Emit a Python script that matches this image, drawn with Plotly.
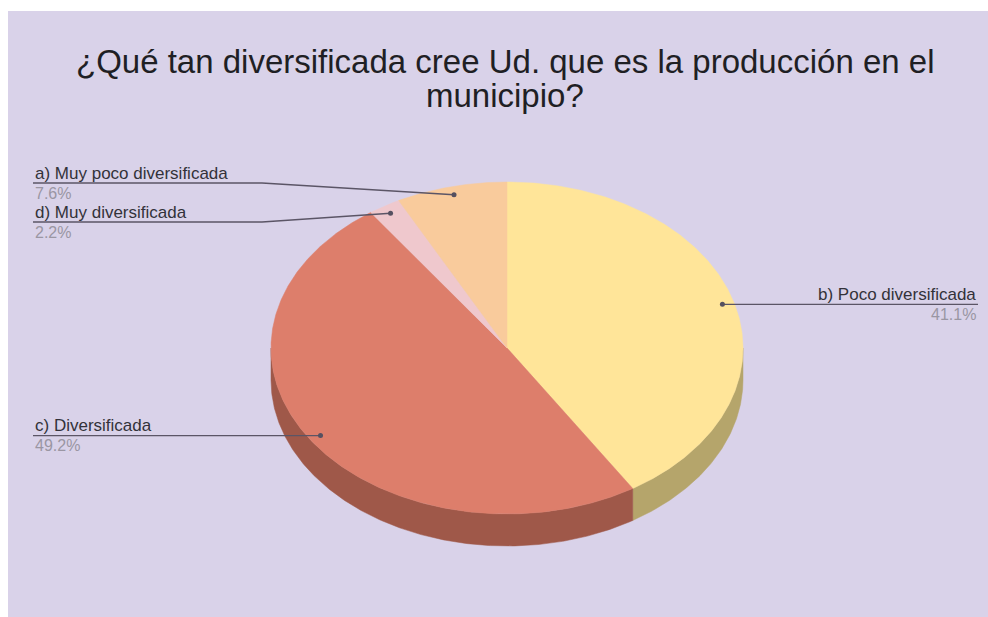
import numpy as np
import plotly.graph_objects as go

# Survey answers, drawn clockwise from 12 o'clock
categories = ["b) Poco diversificada", "c) Diversificada",
              "d) Muy diversificada", "a) Muy poco diversificada"]
values = [41.1, 49.2, 2.2, 7.6]
top_colors = ["#ffe599", "#dd7e6b", "#efc8cd", "#f9cb9c"]
side_colors = ["#b5a56b", "#9f5849", "#a98a8e", "#b08f6e"]

title_lines = ["¿Qué tan diversificada cree Ud. que es la producción en el",
               "municipio?"]

# Geometry of the tilted disc (in pixel units of the axes)
CX, CY = 507, 348
RX, RY = 236, 166
DEPTH = 32
BG = "#d9d2e9"
FONT = "Liberation Sans, Arial"


def rim(theta, dy=0.0, r=1.0):
    t = np.radians(theta)
    return CX + r * RX * np.sin(t), CY - r * RY * np.cos(t) + dy


def arc(a0, a1, dy=0.0, n=None):
    n = n or max(int(abs(a1 - a0) * 2), 4)
    th = np.linspace(a0, a1, n)
    return rim(th, dy)


total = sum(values)
bounds = np.concatenate([[0], np.cumsum(values) / total * 360])

fig = go.Figure()

# Visible front wall of the disc
for i, c in enumerate(categories):
    s0, s1 = max(bounds[i], 90), min(bounds[i + 1], 270)
    if s1 <= s0:
        continue
    xt, yt = arc(s0, s1)
    xb, yb = arc(s1, s0, dy=DEPTH)
    fig.add_trace(go.Scatter(
        x=np.concatenate([xt, xb, xt[:1]]), y=np.concatenate([yt, yb, yt[:1]]),
        fill="toself", fillcolor=side_colors[i], mode="lines",
        line=dict(width=0.5, color=side_colors[i]), hoverinfo="skip", showlegend=False))

# Top faces of the slices
for i, c in enumerate(categories):
    xa, ya = arc(bounds[i], bounds[i + 1])
    fig.add_trace(go.Scatter(
        x=np.concatenate([[CX], xa, [CX]]), y=np.concatenate([[CY], ya, [CY]]),
        fill="toself", fillcolor=top_colors[i], mode="lines",
        line=dict(width=0.5, color=top_colors[i]), name=c,
        hoverinfo="name", showlegend=False))

# Leader lines and labels: side, y of the underline (None = follow the dot)
label_side = ["right", "left", "left", "left"]
label_line_y = [None, None, 222, 183]
LEFT_X, RIGHT_X, ELBOW_X = 33, 978, 262
LINE_COLOR = "#5b5566"

annotations = []
for i, c in enumerate(categories):
    mid = (bounds[i] + bounds[i + 1]) / 2
    dx, dy = rim(mid, r=0.95)
    ly = label_line_y[i] if label_line_y[i] is not None else dy
    if label_side[i] == "left":
        if label_line_y[i] is None:
            lx, lyy = [LEFT_X, dx], [ly, dy]
        else:
            lx, lyy = [LEFT_X, ELBOW_X, dx], [ly, ly, dy]
        tx, anchor = LEFT_X, "left"
    else:
        lx, lyy = [dx, RIGHT_X], [ly, ly]
        tx, anchor = RIGHT_X, "right"
    fig.add_trace(go.Scatter(
        x=lx, y=lyy, mode="lines", line=dict(color=LINE_COLOR, width=1.3),
        hoverinfo="skip", showlegend=False))
    fig.add_trace(go.Scatter(
        x=[dx], y=[dy], mode="markers", marker=dict(color="#555060", size=5),
        hoverinfo="skip", showlegend=False))
    annotations.append(dict(
        x=tx, y=ly - 10, xref="x", yref="y", text=c, showarrow=False,
        xanchor=anchor, yanchor="middle",
        font=dict(family=FONT, size=17, color="#33323a")))
    annotations.append(dict(
        x=tx, y=ly + 10, xref="x", yref="y", text=f"{values[i]:.1f}%",
        showarrow=False, xanchor=anchor, yanchor="middle",
        font=dict(family=FONT, size=16, color="#9a96a3")))

for line, ty in zip(title_lines, [61, 95]):
    annotations.append(dict(
        x=505, y=ty, xref="x", yref="y", text=line, showarrow=False,
        xanchor="center", yanchor="middle",
        font=dict(family=FONT, size=33, color="#1f1f24")))

fig.update_layout(
    width=988, height=617,
    margin=dict(l=8, r=0, t=11, b=0),
    paper_bgcolor="white", plot_bgcolor=BG,
    annotations=annotations,
    xaxis=dict(range=[8, 988], visible=False, fixedrange=True),
    yaxis=dict(range=[617, 11], visible=False, fixedrange=True),
    showlegend=False,
)

fig.write_html("out.html")
